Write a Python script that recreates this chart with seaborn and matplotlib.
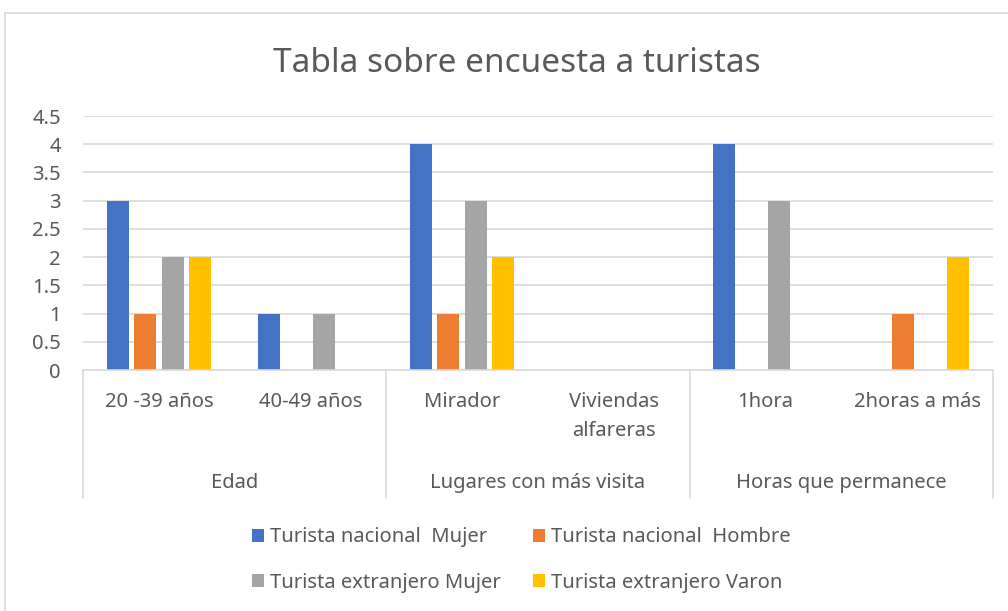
import pandas as pd
import matplotlib
matplotlib.use("Agg")
import matplotlib.pyplot as plt
import seaborn as sns
from matplotlib.patches import Patch, Rectangle

categories = ["20 -39 años", "40-49 años", "Mirador", "Viviendas\nalfareras", "1hora", "2horas a más"]
groups = ["Edad", "Lugares con más visita", "Horas que permanece"]
series = ["Turista nacional  Mujer", "Turista nacional  Hombre",
          "Turista extranjero Mujer", "Turista extranjero Varon"]
nac_mujer = [3, 1, 4, 0, 4, 0]
nac_hombre = [1, 0, 1, 0, 0, 1]
ext_mujer = [2, 1, 3, 0, 3, 0]
ext_varon = [2, 0, 2, 0, 0, 2]
colors = ["#4472C4", "#ED7D31", "#A5A5A5", "#FFC000"]

rows = []
for name, vals in zip(series, [nac_mujer, nac_hombre, ext_mujer, ext_varon]):
    for cat, v in zip(categories, vals):
        rows.append({"cat": cat, "serie": name, "valor": v})
df = pd.DataFrame(rows)

sns.set_style("white")
plt.rcParams["font.family"] = ["Noto Sans", "DejaVu Sans"]
txt = "#595959"
grid = "#D9D9D9"
fs = 14.5

fig = plt.figure(figsize=(10.08, 6.11), dpi=100)
ax = fig.add_axes([83 / 1008, 1 - 370 / 611, 910 / 1008, 254 / 611])

sns.barplot(data=df, x="cat", y="valor", hue="serie", order=categories,
            hue_order=series, palette=colors, saturation=1, width=0.725, gap=0.2,
            linewidth=0, errorbar=None, legend=False, ax=ax)

ax.set_xlim(-0.5, len(categories) - 0.5)
ax.set_ylim(0, 4.5)
ax.set_yticks([i * 0.5 for i in range(10)])
ax.set_yticklabels(["0", "0.5", "1", "1.5", "2", "2.5", "3", "3.5", "4", "4.5"])
ax.yaxis.grid(True, color=grid, linewidth=1.2)
ax.set_axisbelow(True)
ax.tick_params(axis="y", length=0, pad=16, labelsize=fs, labelcolor=txt)
ax.tick_params(axis="x", length=0, pad=16, labelsize=fs, labelcolor=txt)
for lab in ax.get_xticklabels():
    lab.set_linespacing(1.6)
ax.set_xlabel("")
ax.set_ylabel("")
for s in ["top", "right", "left"]:
    ax.spines[s].set_visible(False)
ax.spines["bottom"].set_color(grid)
ax.spines["bottom"].set_linewidth(1.2)

# multi-level category axis
tr = ax.get_xaxis_transform()
for xs in [-0.5, 1.5, 3.5, 5.5]:
    ax.plot([xs, xs], [0, -0.505], transform=tr, color=grid, lw=1.2, clip_on=False)
for i, g in enumerate(groups):
    ax.text(2 * i + 0.5, -0.445, g, transform=tr, ha="center", va="center",
            fontsize=fs, color=txt)

fig.text(517 / 1008, 1 - 63 / 611, "Tabla sobre encuesta a turistas", ha="center",
         va="center", fontsize=24, color=txt)

# legend filled row by row
order = [0, 2, 1, 3]
handles = [Patch(facecolor=colors[i], edgecolor="none") for i in order]
labels = [series[i] for i in order]
fig.legend(handles, labels, loc="center", bbox_to_anchor=(521 / 1008, 1 - 560 / 611),
           ncol=2, frameon=False, fontsize=fs, labelcolor=txt,
           handlelength=0.6, handleheight=0.6, handletextpad=0.3,
           columnspacing=1.6, labelspacing=1.25)

fig.patches.append(Rectangle((5 / 1008, -0.1), 1.2, 1 - 13 / 611 + 0.1,
                             transform=fig.transFigure, fill=False,
                             edgecolor=grid, linewidth=1.2))

fig.savefig("out.png", dpi=100, facecolor="white")
